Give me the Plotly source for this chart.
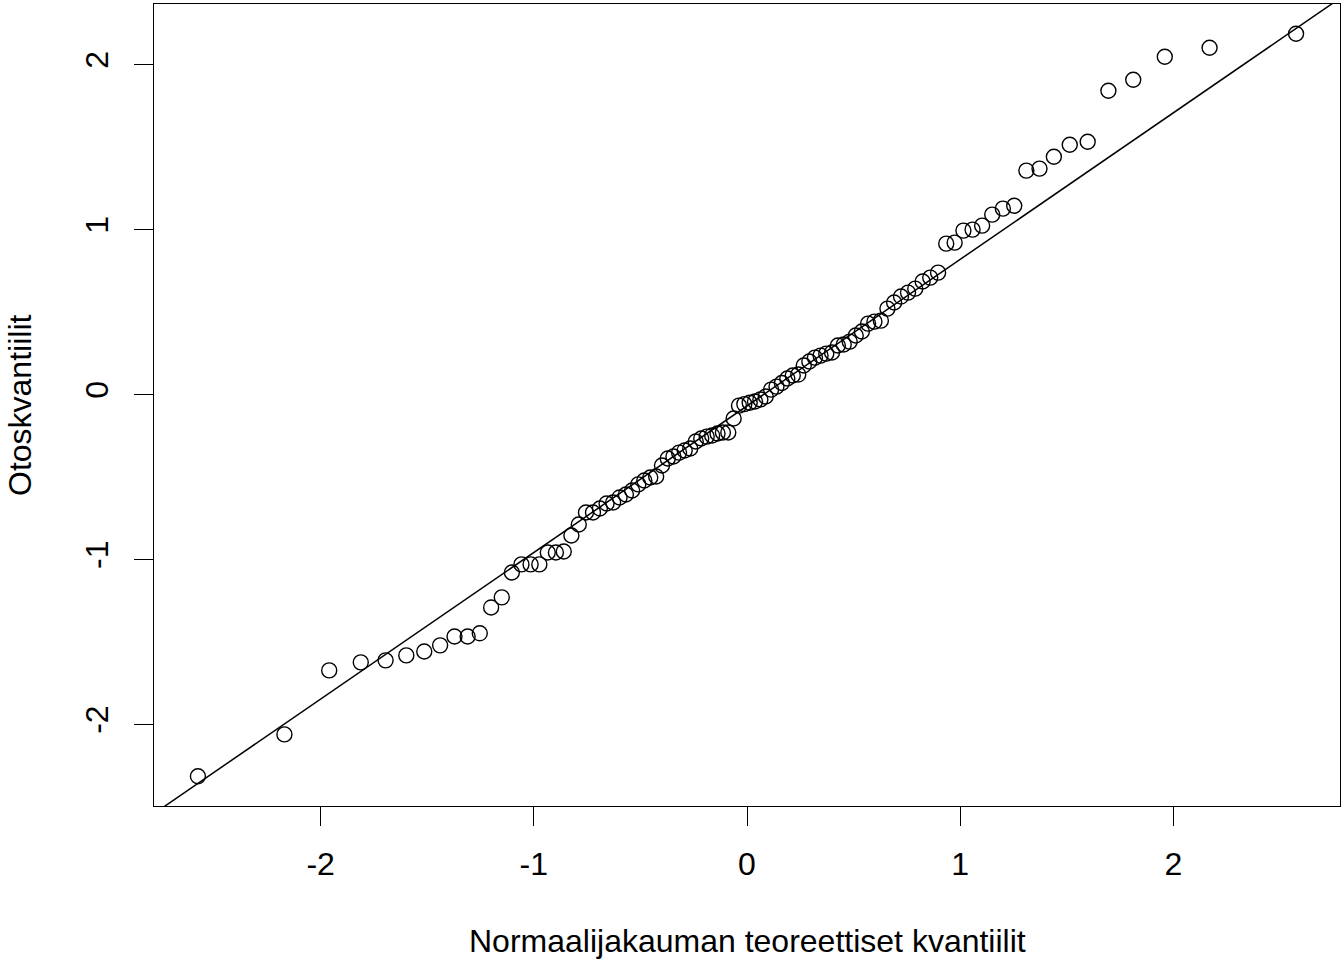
import numpy as np
import plotly.graph_objects as go

# Theoretical normal quantiles qnorm(ppoints(100)), upper half (lower half mirrored)
theo_upper = [0.01253, 0.03760, 0.06271, 0.08784, 0.11304, 0.13830, 0.16365, 0.18912,
              0.21470, 0.24043, 0.26631, 0.29237, 0.31864, 0.34513, 0.37186, 0.39886,
              0.42615, 0.45376, 0.48173, 0.51007, 0.53884, 0.56805, 0.59776, 0.62801,
              0.65884, 0.69031, 0.72248, 0.75542, 0.78919, 0.82389, 0.85961, 0.89647,
              0.93459, 0.97411, 1.01522, 1.05812, 1.10306, 1.15035, 1.20036, 1.25357,
              1.31058, 1.37220, 1.43953, 1.51410, 1.59819, 1.69540, 1.81191, 1.95996,
              2.17009, 2.57583]
theoretical = [-v for v in theo_upper[::-1]] + theo_upper

# Sorted sample values
sample = [-2.315, -2.061, -1.673, -1.624, -1.612, -1.582, -1.558, -1.521, -1.467, -1.467,
          -1.448, -1.291, -1.230, -1.079, -1.030, -1.030, -1.030, -0.958, -0.958, -0.952,
          -0.855, -0.788, -0.715, -0.715, -0.691, -0.661, -0.655, -0.624, -0.606, -0.582,
          -0.545, -0.521, -0.503, -0.497, -0.430, -0.388, -0.376, -0.352, -0.339, -0.327,
          -0.285, -0.267, -0.255, -0.248, -0.236, -0.230, -0.230, -0.145, -0.067, -0.058,
          -0.050, -0.042, -0.030, -0.012, 0.030, 0.048, 0.070, 0.097, 0.115, 0.121,
          0.176, 0.200, 0.224, 0.236, 0.248, 0.255, 0.297, 0.303, 0.321, 0.358,
          0.382, 0.430, 0.442, 0.448, 0.521, 0.558, 0.594, 0.618, 0.642, 0.685,
          0.709, 0.739, 0.915, 0.921, 0.994, 1.000, 1.024, 1.091, 1.127, 1.145,
          1.358, 1.370, 1.442, 1.515, 1.533, 1.842, 1.909, 2.048, 2.103, 2.188]

x_ticks = [-2, -1, 0, 1, 2]
y_ticks = [-2, -1, 0, 1, 2]
x_title = "Normaalijakauman teoreettiset kvantiilit"
y_title = "Otoskvantiilit"

# qqline through the quartiles (R's qqline method)
yq = np.quantile(sample, [0.25, 0.75])
xq = np.array([-0.6744898, 0.6744898])
slope = (yq[1] - yq[0]) / (xq[1] - xq[0])
intercept = yq[0] - slope * xq[0]

xr = [min(theoretical), max(theoretical)]
yr = [min(sample), max(sample)]
xpad = 0.04 * (xr[1] - xr[0])
ypad = 0.04 * (yr[1] - yr[0])
x_range = [xr[0] - xpad, xr[1] + xpad]
y_range = [yr[0] - ypad, yr[1] + ypad]

line_x = np.array([x_range[0] - 1, x_range[1] + 1])
line_y = intercept + slope * line_x

font = "Liberation Sans, Arial, Helvetica, sans-serif"
fs = 32

fig = go.Figure()
fig.add_trace(go.Scatter(x=line_x, y=line_y, mode="lines",
                         line=dict(color="black", width=1.5), hoverinfo="skip",
                         showlegend=False))
fig.add_trace(go.Scatter(x=theoretical, y=sample, mode="markers",
                         marker=dict(symbol="circle-open", size=15,
                                     color="black", line=dict(color="black", width=1.4)),
                         showlegend=False, cliponaxis=False))

axis_common = dict(showgrid=False, zeroline=False, showline=True, linecolor="black",
                   linewidth=1.3, mirror=True, ticks="outside", ticklen=19,
                   tickwidth=1.3, tickcolor="black",
                   tickfont=dict(family=font, size=fs, color="black"))

fig.update_xaxes(range=x_range, tickvals=x_ticks, ticktext=[str(v) for v in x_ticks],
                 ticklabelstandoff=10, **axis_common)
fig.update_yaxes(range=y_range, tickvals=y_ticks, ticktext=[str(v) for v in y_ticks],
                 tickangle=-90, ticklabelstandoff=13, **axis_common)

fig.add_annotation(text=x_title, xref="paper", yref="paper", x=0.5, y=0,
                   yshift=-135, xanchor="center", yanchor="middle", showarrow=False,
                   font=dict(family=font, size=fs, color="black"))
fig.add_annotation(text=y_title, xref="paper", yref="paper", x=0, y=0.5,
                   xshift=-134, xanchor="center", yanchor="middle", showarrow=False,
                   textangle=-90, font=dict(family=font, size=fs, color="black"))

fig.update_layout(width=1344, height=960, plot_bgcolor="white", paper_bgcolor="white",
                  margin=dict(l=154, r=4, t=4, b=154, pad=0),
                  font=dict(family=font, size=fs, color="black"))

fig.write_html("out.html", config={"displayModeBar": False},
               post_script="document.body.style.margin='0';document.body.style.overflow='hidden';")
